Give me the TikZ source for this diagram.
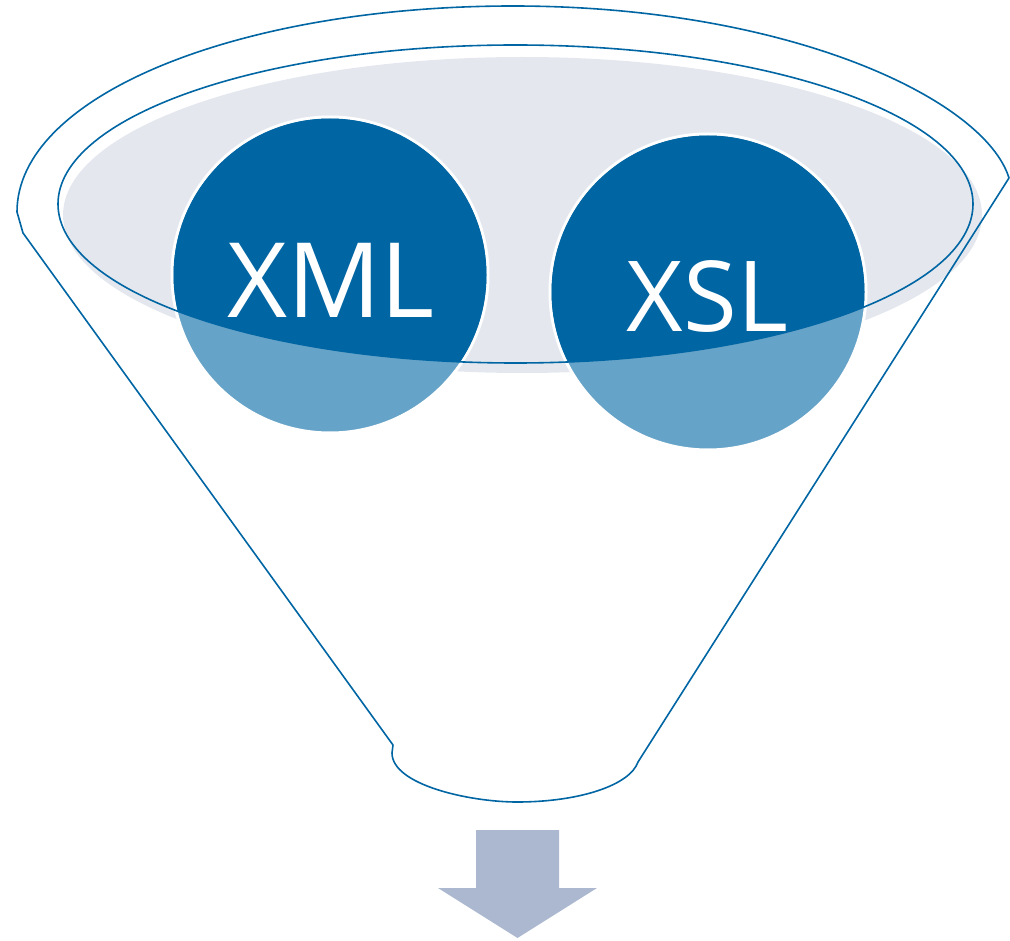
\documentclass[tikz,border=0pt]{standalone}
\usepackage{fontspec}
\setmainfont{Open Sans}
\usepackage{xcolor}
\usepackage{tikz}
\usetikzlibrary{positioning, calc}
\definecolor{funnelblue}{HTML}{0065A3}
\definecolor{balllight}{HTML}{66A3C8}
\definecolor{rimgrey}{HTML}{E4E8EE}
\definecolor{arrowgrey}{HTML}{ABB8CF}
\tikzstyle{funnel} = [draw=funnelblue, line width=1.6pt, line join=round]
\tikzstyle{ball} = [circle, minimum size=316pt, inner sep=0pt, draw=white, line width=3pt, fill=balllight]
\tikzstyle{balltext} = [anchor=base, inner sep=0pt, text=white]

\begin{document}
\begin{tikzpicture}[x=1pt, y=-1pt]
    \useasboundingbox (0,0) rectangle (1010,941);

    % Rim shadow
    \fill[rimgrey] (522.5,215) ellipse [x radius=459.5, y radius=158];

    % Inputs
    \node[ball] (xmlball) at (330,275) {};
    \node[ball] (xslball) at (708,292) {};
    \begin{scope}
        \clip (515.5,204) ellipse [x radius=457.5, y radius=159];
        \fill[funnelblue] (xmlball.center) circle (156.5);
        \fill[funnelblue] (xslball.center) circle (156.5);
    \end{scope}
    \node[balltext, font=\fontsize{104}{104}\selectfont] (xmllabel) at (331,318) {XML};
    \node[balltext, font=\fontsize{98}{98}\selectfont] (xsllabel) at (707.5,332) {XSL};

    % Funnel
    \draw[funnel] (23,233) -- (17,212) .. controls (17,95) and (240,6) .. (513,6)
        .. controls (790,6) and (985,100) .. (1009,178) -- (638,762)
        .. controls (630,785) and (580,802) .. (517,802)
        .. controls (470,802) and (392,785) .. (392,753) -- (393,745) -- cycle;
    \draw[funnel] (515.5,204) ellipse [x radius=457.5, y radius=159];

    % Output
    \fill[arrowgrey] (476,830) -- (559,830) -- (559,888) -- (597,888) -- (517.5,938)
        -- (438,888) -- (476,888) -- cycle;

\end{tikzpicture}
\end{document}
